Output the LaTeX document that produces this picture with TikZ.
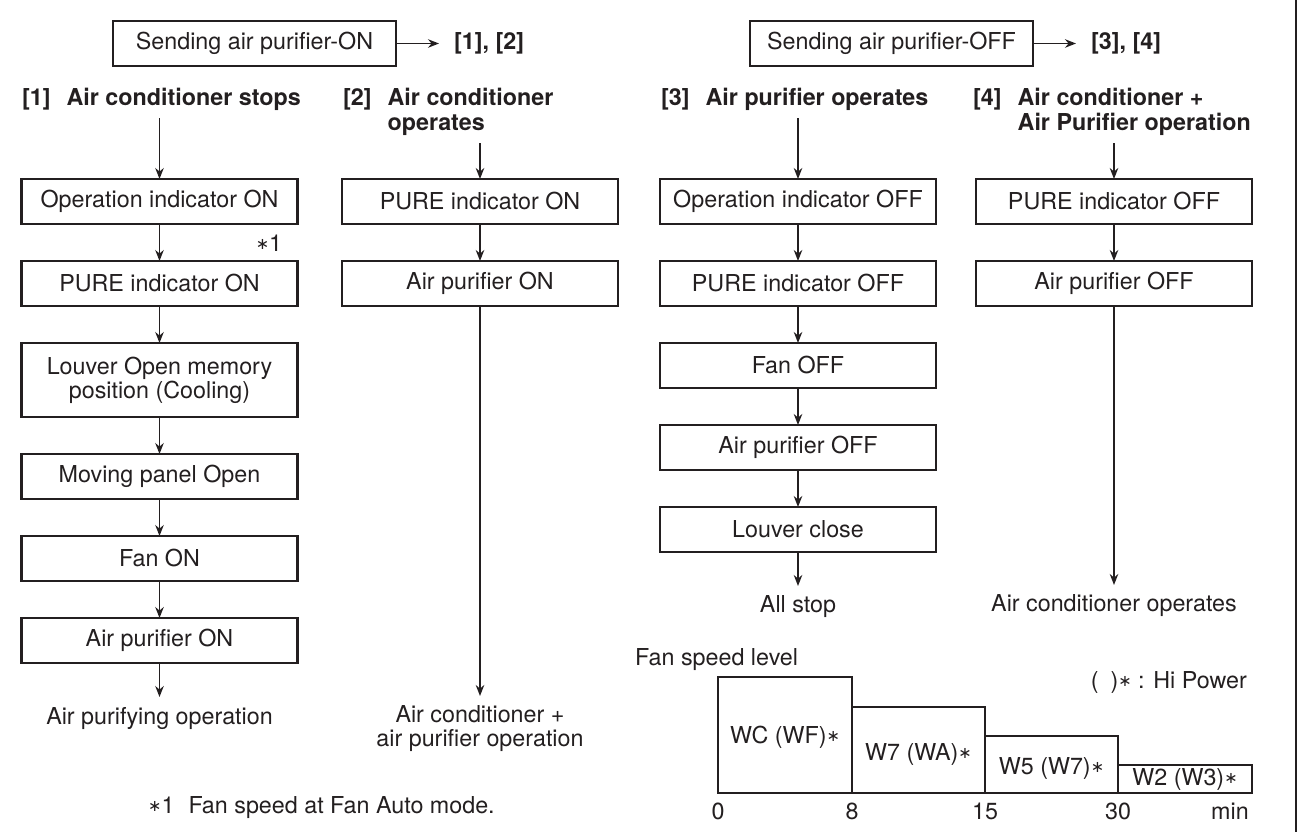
\documentclass[tikz,border=0pt]{standalone}
\usepackage{fontspec}
\setmainfont{TeX Gyre Heros}
\newfontfamily\dejavu{DejaVu Sans}
\usetikzlibrary{arrows.meta,positioning}
\definecolor{ink}{RGB}{35,31,32}
\newcommand{\aster}{\raisebox{1.5pt}{\dejavu\fontsize{16}{16}\selectfont ∗}}
\newcommand{\hdr}[2]{\begin{tabular}[t]{@{}l@{\hspace{16pt}}l@{}}#1&#2\end{tabular}}
\begin{document}
\begin{tikzpicture}[x=1pt,y=-1pt,>={Stealth[length=11pt,width=8.5pt]},node distance=37pt,
  every node/.style={font=\fontsize{23.3}{24}\selectfont,text=ink},
  box/.style={draw=ink,line width=2.6pt,minimum width=276pt,minimum height=45pt,inner sep=0pt,outer sep=0pt,align=center},
  sendbox/.style={box,minimum width=283pt},
  hd/.style={anchor=base west,inner sep=0pt,font=\fontsize{23.3}{25}\selectfont\bfseries},
  lbl/.style={inner sep=0pt,font=\fontsize{23.3}{24}\selectfont\bfseries},
  fin/.style={inner sep=0pt,outer sep=10pt,align=center},
  flow/.style={->,draw=ink,line width=1.6pt},
  bar/.style={draw=ink,line width=2.6pt}]
\useasboundingbox (0,0) rectangle (1301,832);

% sending commands
\node[sendbox] (son) at (254.5,43.5) {Sending air purifier-ON};
\node[lbl,right=58pt of son] (son1) {[1], [2]};
\node[sendbox] (soff) at (891.5,43.5) {Sending air purifier-OFF};
\node[lbl,right=58pt of soff] (soff1) {[3], [4]};
\draw[flow,shorten >=15pt] (son) -- (son1);
\draw[flow,shorten >=15pt] (soff) -- (soff1);

% headings
\node[hd] (h1) at (22,106) {\hdr{[1]}{Air conditioner stops}};
\node[hd] (h2) at (343,106) {\hdr{[2]}{Air conditioner\\&operates}};
\node[hd] (h3) at (661,106) {\hdr{[3]}{Air purifier operates}};
\node[hd] (h4) at (973,106) {\hdr{[4]}{Air conditioner +\\&Air Purifier operation}};

% [1]
\node[box] (a1) at (159.5,201.5) {Operation indicator ON};
\node[box,below=of a1] (a2) {PURE indicator ON};
\node[box,below=of a2,minimum height=74pt] (a3) {Louver Open memory\\position (Cooling)};
\node[box,below=of a3] (a4) {Moving panel Open};
\node[box,below=of a4] (a5) {Fan ON};
\node[box,below=of a5] (a6) {Air purifier ON};
\node[fin,below=34pt of a6] (a7) {Air purifying operation};
\node (n1) at (269,243) {\aster1};

% [2]
\node[box] (b1) at (480,201.5) {PURE indicator ON};
\node[box,below=of b1] (b2) {Air purifier ON};
\node[fin,below=390pt of b2] (b3) {Air conditioner +\\air purifier operation};

% [3]
\node[box] (c1) at (798,201.5) {Operation indicator OFF};
\node[box,below=of c1] (c2) {PURE indicator OFF};
\node[box,below=of c2] (c3) {Fan OFF};
\node[box,below=of c3] (c4) {Air purifier OFF};
\node[box,below=of c4] (c5) {Louver close};
\node[fin,below=34pt of c5] (c6) {All stop};

% [4]
\node[box] (d1) at (1114,201.5) {PURE indicator OFF};
\node[box,below=of d1] (d2) {Air purifier OFF};
\node[fin,below=279pt of d2] (d3) {Air conditioner operates};

\draw[flow,shorten <=4.5pt] (h1.south -| a1) -- (a1);
\draw[flow,shorten <=4.5pt] (h2.south -| b1) -- (b1);
\draw[flow,shorten <=4.5pt] (h3.south -| c1) -- (c1);
\draw[flow,shorten <=4.5pt] (h4.south -| d1) -- (d1);
\foreach \p/\q in {a1/a2,a2/a3,a3/a4,a4/a5,a5/a6,a6/a7,b1/b2,b2/b3,c1/c2,c2/c3,c3/c4,c4/c5,c5/c6,d1/d2,d2/d3}
  \draw[flow] (\p) -- (\q);

% fan speed chart
\node[anchor=base west,inner sep=0pt] (fsl) at (635,665) {Fan speed level};
\node[anchor=base east,inner sep=0pt] (hp) at (1247,688) {(\hspace{12pt})\aster\ : Hi Power};
\foreach \xa/\xb/\yt/\lab/\ly [count=\i] in {718/852/677/WC (WF)/737,852/985/707/W7 (WA)/754,985/1118/736/W5 (W7)/768,1118/1252/765/W2 (W3)/779}{
  \draw[bar] (\xa,793) rectangle (\xb,\yt);
  \node (w\i) at ({(\xa+\xb)/2},\ly) {\lab\aster};
}
\foreach \x/\t in {718/0,852/8,985/15,1118/30}
  \node (t\t) at (\x,811) {\t};
\node (tmin) at (1230,811) {min};

% footnote
\node[anchor=base west,inner sep=0pt] (fn) at (148,813) {\aster1\hspace{14pt}Fan speed at Fan Auto mode.};

\draw[ink,line width=2.5pt] (1296,0) -- (1296,832);
\end{tikzpicture}
\end{document}
